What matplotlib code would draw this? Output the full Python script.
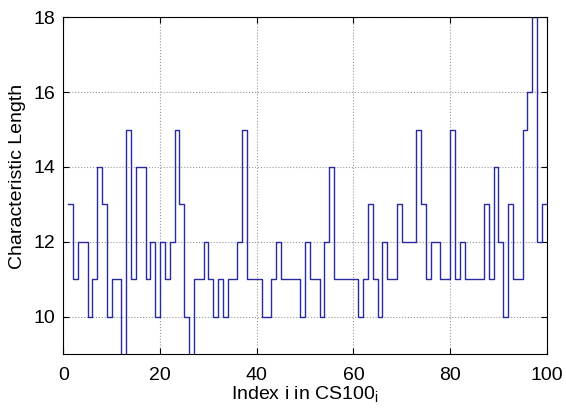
import numpy as np
import matplotlib
matplotlib.use("Agg")
import matplotlib.pyplot as plt

# characteristic length for each index i = 1..100
char_length = [
    13, 11, 12, 12, 10, 11, 14, 13, 10, 11,
    11, 8, 15, 11, 14, 14, 11, 12, 10, 12,
    11, 12, 15, 13, 10, 8, 11, 11, 12, 11,
    10, 11, 10, 11, 11, 12, 15, 11, 11, 11,
    10, 10, 11, 12, 11, 11, 11, 11, 10, 12,
    11, 11, 10, 12, 14, 11, 11, 11, 11, 11,
    10, 11, 13, 11, 10, 12, 11, 11, 13, 12,
    12, 12, 15, 13, 11, 12, 12, 11, 11, 15,
    11, 12, 11, 11, 11, 11, 13, 11, 14, 12,
    10, 13, 11, 11, 15, 16, 18, 12, 13, 13,
]
index = np.arange(1, len(char_length) + 1)

x_ticks = [0, 20, 40, 60, 80, 100]
y_ticks = [10, 12, 14, 16, 18]

plt.rcParams['font.family'] = ['Liberation Sans', 'DejaVu Sans']
plt.rcParams['mathtext.fontset'] = 'custom'
plt.rcParams['mathtext.rm'] = 'Liberation Sans'

fig = plt.figure(figsize=(5.66, 4.09), dpi=100)
ax = fig.add_axes([0.112, 0.134, 0.854, 0.824])

ax.step(index, char_length, where='post', color='#2a2aa0', lw=1.0)

ax.set_xlim(0, 100)
ax.set_ylim(9, 18)
ax.set_xticks(x_ticks)
ax.set_yticks(y_ticks)
ax.grid(True, linestyle=':', color='#9a9a9a', lw=0.8)
ax.tick_params(direction='in', top=True, right=True, labelsize=14, length=4)
ax.tick_params(axis='x', pad=9)
ax.tick_params(axis='y', pad=6)
for s in ax.spines.values():
    s.set_linewidth(0.8)

ax.set_xlabel('Index i in CS100$_\\mathregular{i}$', fontsize=14, labelpad=1)
ax.set_ylabel('Characteristic Length', fontsize=14)
ax.yaxis.set_label_coords(-0.078, 0.528)

fig.savefig('out.png', dpi=100)
